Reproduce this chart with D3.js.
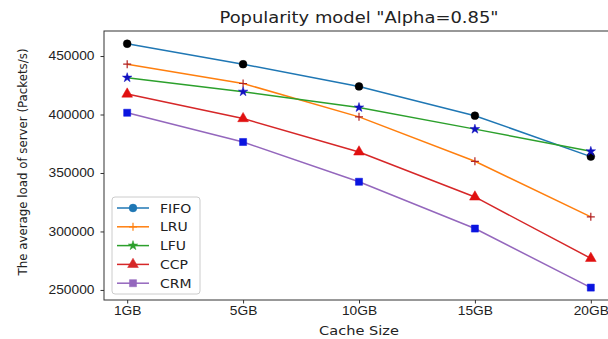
<!DOCTYPE html>
<html>
<head>
<meta charset="utf-8">
<script src="https://cdn.jsdelivr.net/npm/d3@7"></script>
<style>
  body { margin: 0; background: #fff; }
  svg { display: block; font-family: "DejaVu Sans", sans-serif; }
</style>
</head>
<body>
<svg id="chart" width="608" height="339"></svg>
<script>
// data
let categories = ["1GB", "5GB", "10GB", "15GB", "20GB"]
let fifo = [460500, 443000, 424000, 399000, 364000]
let lru = [443000, 426500, 398000, 360000, 312500]
let lfu = [431500, 419500, 406000, 387500, 368500]
let ccp = [417500, 396500, 368000, 329500, 277000]
let crm = [401500, 376500, 342500, 302500, 252000]
let yTicks = [250000, 300000, 350000, 400000, 450000]

let series = [
    { name: "FIFO", values: fifo, line: "#1f77b4", marker: "#000000", legendMarker: "#1f77b4", shape: "circle" },
    { name: "LRU", values: lru, line: "#ff7f0e", marker: "#b22222", legendMarker: "#ff7f0e", shape: "plus" },
    { name: "LFU", values: lfu, line: "#2ca02c", marker: "#1010c0", legendMarker: "#2ca02c", shape: "star" },
    { name: "CCP", values: ccp, line: "#d62728", marker: "#e01010", legendMarker: "#d62728", shape: "triangle" },
    { name: "CRM", values: crm, line: "#9467bd", marker: "#0a14e0", legendMarker: "#9467bd", shape: "square" }
]

// the source picture is a bit stretched sideways, so text gets widened too
let stretch = 1.12

let svg = d3.select('#chart')
let plotLeft = 104, plotRight = 614, plotTop = 31, plotBottom = 300

let x = d3.scaleLinear().domain([-0.2, 4.2]).range([plotLeft, plotRight])
let y = d3.scaleLinear().domain([241400, 471400]).range([plotBottom, plotTop])

// axes
let xAxis = d3.axisBottom(x).tickValues(d3.range(categories.length))
    .tickFormat(i => categories[i]).tickSize(3.5).tickPadding(3)
let yAxis = d3.axisLeft(y).tickValues(yTicks).tickFormat(d3.format("d"))
    .tickSize(3.5).tickPadding(5)

let gx = svg.append('g').attr('transform', `translate(0,${plotBottom})`).call(xAxis)
let gy = svg.append('g').attr('transform', `translate(${plotLeft},0)`).call(yAxis)
for (let g of [gx, gy]) {
    g.select('.domain').remove()
    g.selectAll('text').attr('font-size', 12.3).attr('fill', '#222')
        .attr('transform', `scale(${stretch},1)`)
    g.selectAll('line').attr('stroke', '#333')
}

// frame
svg.append('rect')
    .attr('x', plotLeft).attr('y', plotTop)
    .attr('width', plotRight - plotLeft).attr('height', plotBottom - plotTop)
    .attr('fill', 'none').attr('stroke', '#333').attr('stroke-width', 1)

let symbolFor = (shape, size) => {
    if (shape === 'plus') return 'M-4,0H4M0,-4V4'
    let types = { circle: d3.symbolCircle, star: d3.symbolStar, triangle: d3.symbolTriangle, square: d3.symbolSquare }
    return d3.symbol().type(types[shape]).size(size)()
}
let markerSize = { circle: 48, star: 28, triangle: 50, square: 50, plus: 0 }

let line = d3.line().x((d, i) => x(i)).y(d => y(d))

series.forEach(s => {
    svg.append('path')
        .attr('d', line(s.values))
        .attr('fill', 'none')
        .attr('stroke', s.line)
        .attr('stroke-width', 1.5)

    svg.selectAll(null)
        .data(s.values)
        .enter()
        .append('path')
        .attr('transform', (d, i) => `translate(${x(i)},${y(d)})`)
        .attr('d', symbolFor(s.shape, markerSize[s.shape]))
        .attr('fill', s.shape === 'plus' ? 'none' : s.marker)
        .attr('stroke', s.marker)
        .attr('stroke-width', s.shape === 'plus' ? 1.2 : 0.5)
})

// legend
let legend = svg.append('g').attr('transform', 'translate(112,197)')
legend.append('rect')
    .attr('width', 88).attr('height', 97).attr('rx', 3)
    .attr('fill', '#fff').attr('fill-opacity', 0.85)
    .attr('stroke', '#ccc')

series.forEach((s, i) => {
    let ly = 11 + i * 18.8
    legend.append('line')
        .attr('x1', 5).attr('x2', 37).attr('y1', ly).attr('y2', ly)
        .attr('stroke', s.line).attr('stroke-width', 1.5)
    legend.append('path')
        .attr('transform', `translate(21,${ly})`)
        .attr('d', symbolFor(s.shape, markerSize[s.shape]))
        .attr('fill', s.shape === 'plus' ? 'none' : s.legendMarker)
        .attr('stroke', s.legendMarker)
        .attr('stroke-width', s.shape === 'plus' ? 1.2 : 0.5)
    legend.append('text')
        .attr('transform', `translate(48,${ly + 4.5}) scale(${stretch},1)`)
        .attr('font-size', 12.5).attr('fill', '#222')
        .text(s.name)
})

// titles
svg.append('text')
    .attr('transform', `translate(359,23) scale(${stretch},1)`)
    .attr('text-anchor', 'middle').attr('font-size', 16).attr('fill', '#222')
    .text('Popularity model "Alpha=0.85"')

svg.append('text')
    .attr('transform', `translate(359,335) scale(${stretch},1)`)
    .attr('text-anchor', 'middle').attr('font-size', 13).attr('fill', '#222')
    .text('Cache Size')

svg.append('text')
    .attr('transform', 'translate(27,162) rotate(-90)')
    .attr('text-anchor', 'middle').attr('font-size', 11.8).attr('fill', '#222')
    .text('The average load of server (Packets/s)')
</script>
</body>
</html>
